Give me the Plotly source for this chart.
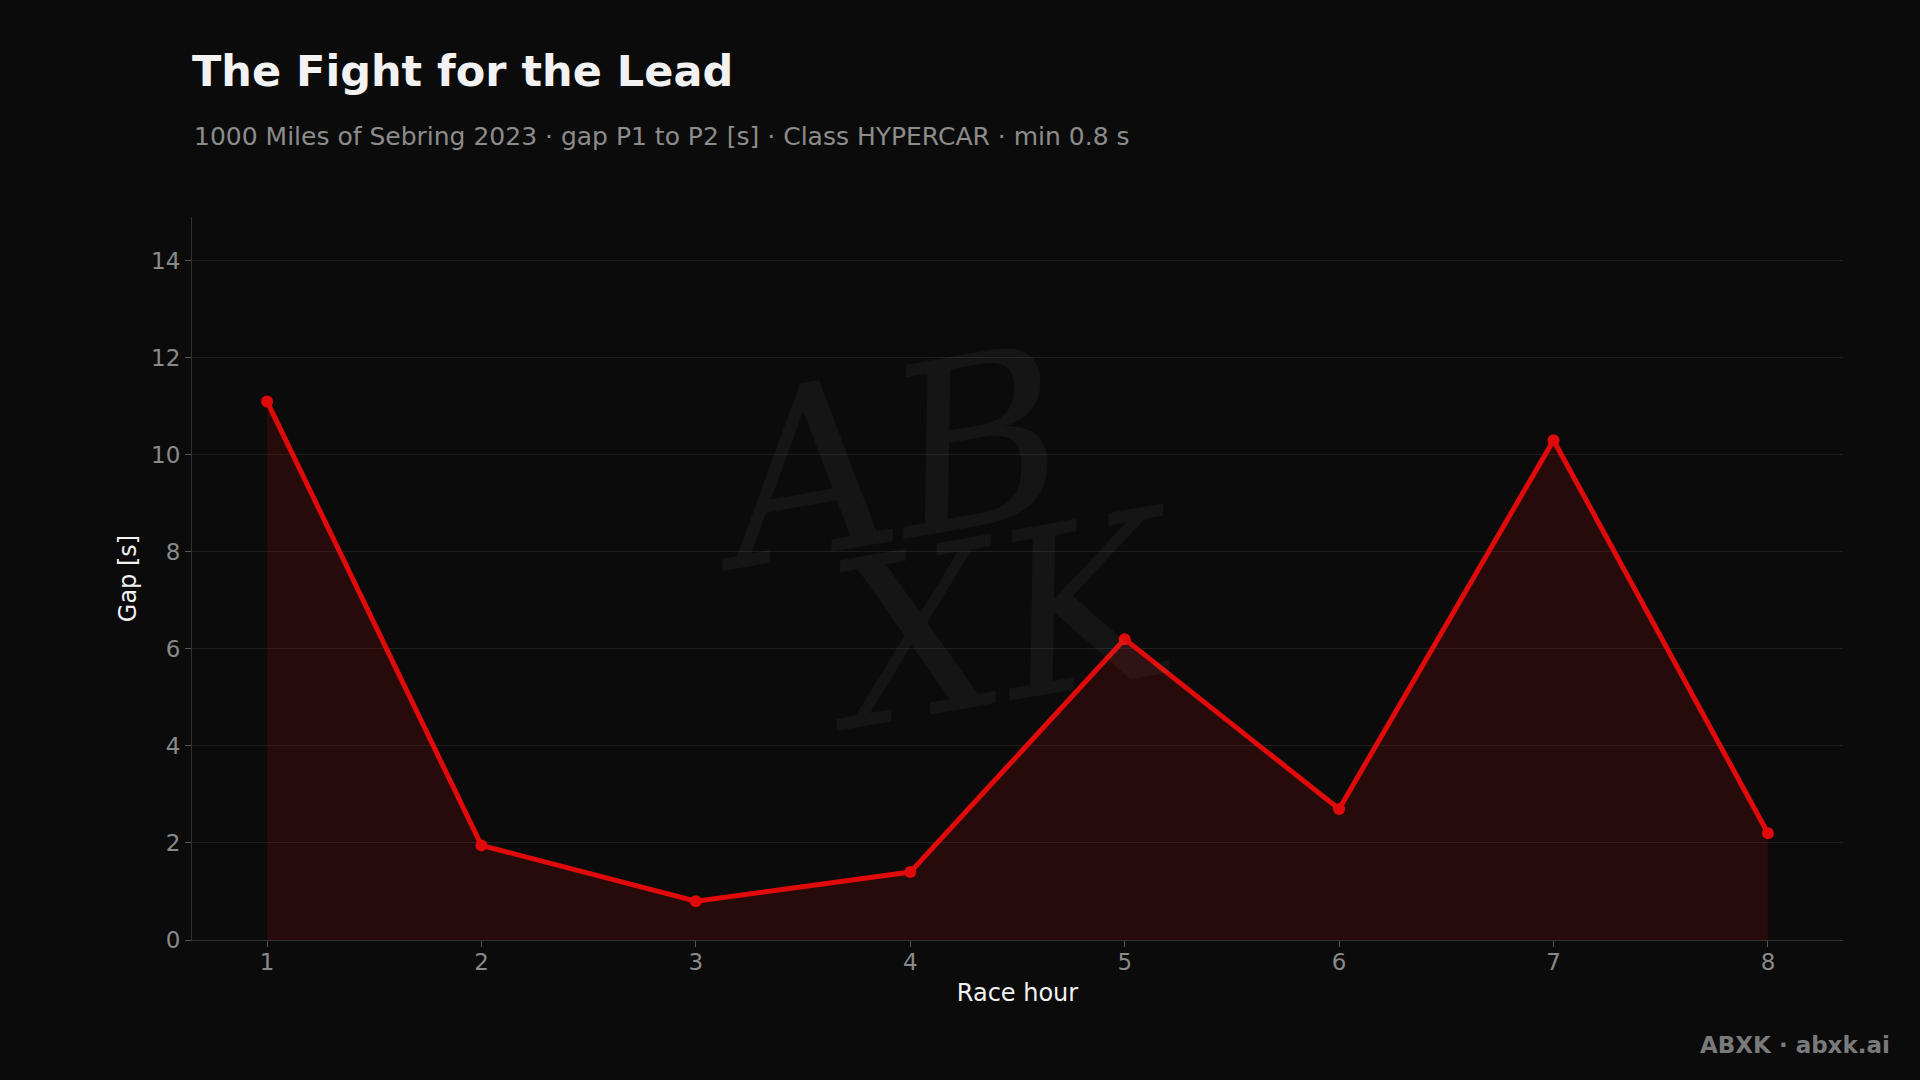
import plotly.graph_objects as go

hours = [1, 2, 3, 4, 5, 6, 7, 8]
gap_s = [11.1, 1.95, 0.8, 1.4, 6.2, 2.7, 10.3, 2.2]
y_ticks = [0, 2, 4, 6, 8, 10, 12, 14]

BG = "#0b0b0b"
RED = "#e00a0a"
FONT = "DejaVu Sans"

fig = go.Figure()
fig.add_trace(go.Scatter(
    x=hours, y=gap_s, mode="lines+markers",
    line=dict(color=RED, width=5),
    marker=dict(color=RED, size=12),
    fill="tozeroy", fillcolor="rgba(200,10,10,0.15)",
    showlegend=False, hoverinfo="x+y",
))

fig.update_layout(
    width=1920, height=1080,
    paper_bgcolor=BG, plot_bgcolor=BG,
    margin=dict(l=192, r=77, t=217, b=140),
    font=dict(family=FONT, color="#888888", size=22),
    title=dict(text="<b>The Fight for the Lead</b>", x=192/1920, xanchor="left",
               xref="container", y=1 - 71/1080, yanchor="middle", yref="container",
               font=dict(family=FONT, size=43, color="#f2f2f2")),
    xaxis=dict(range=[0.65, 8.35], tickvals=hours, showgrid=False, zeroline=False,
               showline=True, linecolor="#333333", linewidth=1,
               ticks="outside", ticklen=6, tickcolor="#555555", ticklabelstandoff=-5,
               tickfont=dict(size=23, color="#8a8a8a"),
               title=dict(text="Race hour", font=dict(size=24, color="#f2f2f2"), standoff=10)),
    yaxis=dict(range=[0, 14.9], tickvals=y_ticks, showgrid=True, gridcolor="#1f1f1f", gridwidth=1,
               zeroline=False, showline=True, linecolor="#333333", linewidth=1,
               ticks="outside", ticklen=6, tickcolor="#555555",
               tickfont=dict(size=23, color="#8a8a8a"),
               title=dict(text="Gap [s]", font=dict(size=24, color="#f2f2f2"), standoff=7)),
)

fig.add_annotation(text="1000 Miles of Sebring 2023 · gap P1 to P2 [s] · Class HYPERCAR · min 0.8 s",
                   xref="paper", yref="paper", x=0, y=(940 - 137) / 723, xanchor="left", yanchor="middle",
                   showarrow=False, font=dict(family=FONT, size=25, color="#8c8c8c"))

# watermark
fig.add_annotation(text="<i>AB</i>", xref="paper", yref="paper", x=0.42, y=0.665,
                   xanchor="center", yanchor="middle",
                   showarrow=False, font=dict(family="DejaVu Serif", size=235, color="rgba(255,255,255,0.045)"),
                   textangle=-10)
fig.add_annotation(text="<i>XK</i>", xref="paper", yref="paper", x=0.49, y=0.44,
                   xanchor="center", yanchor="middle",
                   showarrow=False, font=dict(family="DejaVu Serif", size=230, color="rgba(255,255,255,0.045)"),
                   textangle=-10)

fig.add_annotation(text="<b>ABXK · abxk.ai</b>", xref="paper", yref="paper",
                   x=(1892 - 192) / 1651, y=(940 - 1045) / 723, xanchor="right", yanchor="middle",
                   showarrow=False, font=dict(family=FONT, size=23, color="#7a7a7a"))

fig.write_html("out.html", config={"displayModeBar": False},
               post_script="document.body.style.margin='0';document.body.style.background='#0b0b0b';")
